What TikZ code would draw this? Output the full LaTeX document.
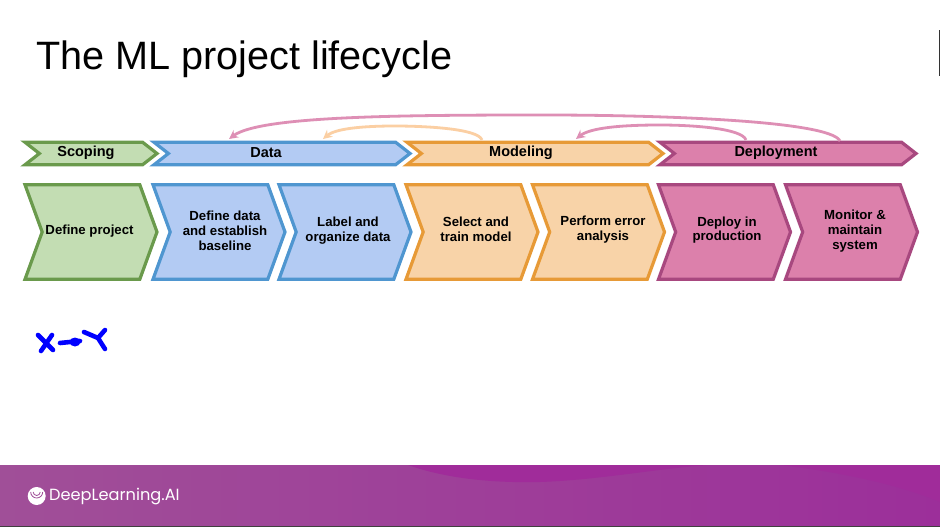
\documentclass[tikz,border=0pt]{standalone}
\usepackage{fontspec}
\setmainfont{Liberation Sans}
\newfontfamily\logofont{Poppins}
\usetikzlibrary{arrows.meta,shapes.symbols}
\definecolor{mygreen}{HTML}{6A9A4C}
\definecolor{mygreenfill}{HTML}{C3DDB3}
\definecolor{myblue}{HTML}{4F96D0}
\definecolor{mybluefill}{HTML}{B3CBF3}
\definecolor{myorange}{HTML}{E79A37}
\definecolor{myorangefill}{HTML}{F8D3A8}
\definecolor{mypink}{HTML}{A8487F}
\definecolor{mypinkfill}{HTML}{DC80AB}
\definecolor{myloop}{HTML}{DE8FB5}
\definecolor{myloopo}{HTML}{FBCFA3}
\definecolor{myband}{HTML}{A04F98}
\definecolor{mybandr}{HTML}{9C2F9A}
\definecolor{mywave}{HTML}{A02C9A}
\tikzset{
  chev/.style={signal, signal from=west, signal to=east, line width=3.2pt, inner sep=0pt, outer sep=0pt, anchor=center},
  phase/.style={chev, minimum height=22.5pt, signal pointer angle=76},
  stage/.style={chev, minimum height=94.5pt, minimum width=132pt, signal pointer angle=140},
  phasetxt/.style={font=\bfseries\fontsize{14.5}{16}\selectfont, inner sep=0pt},
  stagetxt/.style={font=\bfseries\fontsize{13.2}{14.8}\selectfont, align=center, inner sep=0pt},
  loopo/.style={-{Stealth[length=9pt,width=9pt]}, line width=2.8pt, myloopo},
  loopp/.style={-{Stealth[length=9pt,width=9pt]}, line width=2.8pt, myloop},
  handdrawn/.style={line width=4.6pt, line cap=round, line join=round, blue},
}
\begin{document}
\begin{tikzpicture}[x=1pt,y=-1pt]
  \useasboundingbox (0,0) rectangle (940,527);
  \fill[white] (0,0) rectangle (940,527);
  \node[font=\fontsize{39.6}{44}\selectfont, anchor=west, inner sep=0pt] (title) at (36,59) {The ML project lifecycle};
  % bands
  \node[phase, minimum width=132pt, draw=mygreen, fill=mygreenfill] (scoping) at (91,153.5) {};
  \node[phase, minimum width=256pt, draw=myblue, fill=mybluefill] (data) at (282,153.5) {};
  \node[phase, minimum width=256pt, draw=myorange, fill=myorangefill] (modeling) at (535,153.5) {};
  \node[phase, minimum width=256pt, draw=mypink, fill=mypinkfill] (deployment) at (788,153.5) {};
  \node[phasetxt] (scopingtxt) at (86,152.5) {Scoping};
  \node[phasetxt] (datatxt) at (266,152.5) {Data};
  \node[phasetxt] (modelingtxt) at (521,152.5) {Modeling};
  \node[phasetxt] (deploymenttxt) at (776,152.5) {Deployment};
  % stages
  \node[stage, draw=mygreen, fill=mygreenfill] (define) at (91,232) {};
  \node[stage, draw=myblue, fill=mybluefill] (baseline) at (219,232) {};
  \node[stage, draw=myblue, fill=mybluefill] (label) at (345,232) {};
  \node[stage, draw=myorange, fill=myorangefill] (train) at (472,232) {};
  \node[stage, draw=myorange, fill=myorangefill] (error) at (598.5,232) {};
  \node[stage, draw=mypink, fill=mypinkfill] (deploy) at (724.5,232) {};
  \node[stage, draw=mypink, fill=mypinkfill] (monitor) at (851.5,232) {};
  \node[stagetxt] (definetxt) at (89.5,231) {Define project};
  \node[stagetxt] (baselinetxt) at (225,231) {Define data\\and establish\\baseline};
  \node[stagetxt] (labeltxt) at (348,230.5) {Label and\\organize data};
  \node[stagetxt] (traintxt) at (476,229.5) {Select and\\train model};
  \node[stagetxt] (errortxt) at (603,229.5) {Perform error\\analysis};
  \node[stagetxt] (deploytxt) at (727,230) {Deploy in\\production};
  \node[stagetxt] (monitortxt) at (855,231) {Monitor \&\\maintain\\system};
  % feedback loops
  \coordinate (ploopstart) at (840,141);
  \coordinate (ploopend) at (229,139);
  \coordinate (oloopstart) at (482,140);
  \coordinate (oloopend) at (323,139);
  \coordinate (dloopstart) at (746,140);
  \coordinate (dloopend) at (576,139);
  \draw[loopp] (ploopstart) .. controls (830,120) and (650,115) .. (545,115) .. controls (400,115) and (260,116) .. (ploopend);
  \draw[loopo] (oloopstart) .. controls (478,128) and (420,126) .. (395,126) .. controls (360,126) and (335,129) .. (oloopend);
  \draw[loopp] (dloopstart) .. controls (742,128) and (690,125) .. (660,125) .. controls (620,125) and (590,128) .. (dloopend);
  % handwriting
  \draw[handdrawn] (38,335) -- (53,350) (52,335) -- (41,351);
  \draw[handdrawn] (60,343) -- (80,341);
  \fill[blue] (75,342) ellipse (5.5pt and 4.5pt);
  \draw[handdrawn] (84,332) -- (98,338) -- (105,349) (98,338) -- (105,330);
  % footer
  \shade[left color=myband, right color=mybandr] (0,465) rectangle (940,526);
  \fill[mywave] (408,465) .. controls (450,480) and (500,483) .. (540,482) .. controls (600,480) and (660,468) .. (710,465) -- cycle;
  \fill[mywave] (780,465) .. controls (840,472) and (900,485) .. (940,502) -- (940,465) -- cycle;
  \fill[black!75] (0,526) rectangle (940,527);
  \fill[black!80] (938.5,30) rectangle (940,76);
  \fill[white] (36.7,496) circle (9pt);
  \draw[myband, line width=.8pt] (30.7,492) arc[start angle=180, end angle=360, radius=6pt];
  \draw[myband, line width=.8pt] (33.2,492) arc[start angle=180, end angle=360, radius=3.5pt];
  \node[font=\logofont\fontsize{16.2}{18}\selectfont, text=white, anchor=west, inner sep=0pt] (logotxt) at (49,497) {DeepLearning.AI};
\end{tikzpicture}
\end{document}
